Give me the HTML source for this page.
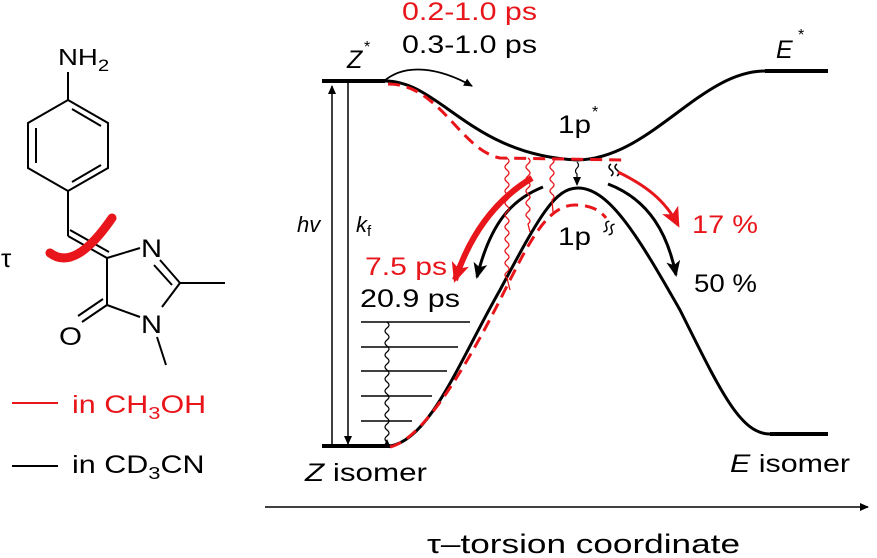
<!DOCTYPE html>
<html><head><meta charset="utf-8"><style>
html,body{margin:0;padding:0;background:#fff;}
svg{display:block;}
text{font-family:"Liberation Sans",sans-serif;}
</style></head><body>
<svg width="877" height="558" viewBox="0 0 877 558" xmlns="http://www.w3.org/2000/svg">
<defs>
<marker id="ab" markerWidth="10" markerHeight="10" refX="8" refY="5" orient="auto" markerUnits="userSpaceOnUse"><path d="M0,1 L9,5 L0,9 Z" fill="#000"/></marker>
<marker id="abl" markerWidth="18" markerHeight="18" refX="14" refY="9" orient="auto" markerUnits="userSpaceOnUse"><path d="M0,2 L16,9 L0,16 L4,9 Z" fill="#000"/></marker>
<marker id="arl" markerWidth="22" markerHeight="22" refX="17" refY="11" orient="auto" markerUnits="userSpaceOnUse"><path d="M0,2 L20,11 L0,20 L5,11 Z" fill="#e8161b"/></marker>
</defs>
<!-- molecule -->
<g stroke="#000" stroke-width="2" fill="none">
<polygon points="68,100 108,123 108,168 68,191 28,168 28,123"/>
<line x1="36" y1="128" x2="36" y2="163"/>
<line x1="72" y1="109" x2="101" y2="126"/>
<line x1="72" y1="182" x2="101" y2="165"/>
<line x1="68" y1="100" x2="68" y2="72"/>
<line x1="68" y1="191" x2="68" y2="236"/>
<line x1="68" y1="236" x2="107" y2="258"/>
<line x1="70" y1="230" x2="109" y2="252"/>
<line x1="107" y1="258" x2="140" y2="248"/>
<line x1="107" y1="258" x2="107" y2="305"/>
<line x1="107" y1="305" x2="140" y2="317"/>
<line x1="107" y1="305" x2="82" y2="322"/>
<line x1="103" y1="299" x2="78" y2="316"/>
<line x1="160" y1="260" x2="180" y2="283"/>
<line x1="154" y1="265" x2="172" y2="285"/>
<line x1="180" y1="283" x2="225" y2="283"/>
<line x1="180" y1="283" x2="162" y2="307"/>
<line x1="157" y1="337" x2="166" y2="365"/>
</g>
<text transform="translate(58,65) scale(1.2,1)" font-size="23">NH<tspan font-size="17" dy="6">2</tspan></text>
<text x="141" y="257" font-size="25" textLength="21" lengthAdjust="spacingAndGlyphs">N</text>
<text x="141" y="333" font-size="25" textLength="21" lengthAdjust="spacingAndGlyphs">N</text>
<text x="59" y="345" font-size="25" textLength="23" lengthAdjust="spacingAndGlyphs">O</text>
<text x="1" y="267" font-size="26" font-family="Liberation Serif">τ</text>
<path d="M50,253 Q75,272 112,218" stroke="#e8161b" stroke-width="9" fill="none" stroke-linecap="round"/>
<line x1="12" y1="403" x2="58" y2="403" stroke="#e8161b" stroke-width="2"/>
<text transform="translate(72,413) scale(1.22,1)" font-size="25" fill="#e8161b">in CH<tspan font-size="18" dy="6">3</tspan><tspan dy="-6">OH</tspan></text>
<line x1="12" y1="466" x2="58" y2="466" stroke="#000" stroke-width="2"/>
<text transform="translate(72,473) scale(1.22,1)" font-size="25">in CD<tspan font-size="18" dy="6">3</tspan><tspan dy="-6">CN</tspan></text>

<!-- energy diagram -->
<g stroke="#000" fill="none">
<line x1="322" y1="81" x2="385" y2="81" stroke-width="4"/>
<path d="M385,81 C440,81 470,155 577,160 C650,159 700,71 765,71" stroke-width="3"/>
<line x1="765" y1="71" x2="828" y2="71" stroke-width="4"/>
<line x1="322" y1="446" x2="390" y2="446" stroke-width="4"/>
<path d="M390,446 C430,440 460,360 500,290 C540,215 555,188 578,188 C610,188 640,240 680,310 C720,390 740,434 770,434" stroke-width="3"/>
<line x1="770" y1="434" x2="828" y2="434" stroke-width="4"/>
<line x1="332" y1="446" x2="332" y2="86" stroke-width="1.5" marker-end="url(#ab)"/>
<line x1="348" y1="83" x2="348" y2="444" stroke-width="1.5" marker-end="url(#ab)"/>
<g stroke-width="1.5">
<line x1="361" y1="322" x2="470" y2="322"/>
<line x1="361" y1="347" x2="458" y2="347"/>
<line x1="361" y1="371" x2="447" y2="371"/>
<line x1="361" y1="396" x2="432" y2="396"/>
<line x1="361" y1="421" x2="412" y2="421"/>
</g>
<path d="M387,322 q4,3 0,6 q-4,3 0,6 q4,3 0,6 q-4,3 0,6 q4,3 0,6 q-4,3 0,6 q4,3 0,6 q-4,3 0,6 q4,3 0,6 q-4,3 0,6 q4,3 0,6 q-4,3 0,6 q4,3 0,6 q-4,3 0,6 q4,3 0,6 q-4,3 0,6 q4,3 0,6 q-4,3 0,6 q4,3 0,6 q-4,3 0,6 L387,440" stroke-width="1.2" marker-end="url(#ab)"/>
<path d="M383,82 C405,62 440,68 472,86" stroke-width="1.8" marker-end="url(#ab)"/>
<path d="M577,162 q3,3 0,6 q-3,3 0,6 L577,185" stroke-width="1.2" marker-end="url(#ab)"/>
<path d="M543,187 C510,200 490,225 477,277" stroke-width="3" marker-end="url(#abl)"/>
<path d="M608,184 C650,200 668,235 676,275" stroke-width="3" marker-end="url(#abl)"/>
<path d="M611,164 q-4,3 0,6 q4,3 0,6 M617,164 q-4,3 0,6 q4,3 0,6" stroke-width="1.5"/>
<path d="M606,222 q-4,3 0,6 q4,3 0,6 M612,222 q-4,3 0,6 q4,3 0,6" stroke-width="1.5" transform="rotate(30 609 228)"/>
</g>
<!-- red dashed -->
<g stroke="#e8161b" fill="none" stroke-width="3" stroke-dasharray="12,7">
<path d="M388,84 C440,84 460,150 500,158 L625,160"/>
<path d="M390,447 C420,440 460,380 505,290 C530,240 548,205 575,205 C590,205 600,210 606,218"/>
</g>
<g stroke="#e8161b" fill="none" stroke-width="1.3">
<path d="M507,158 q4,3 0,6 q-4,3 0,6 q4,3 0,6 q-4,3 0,6 q4,3 0,6 q-4,3 0,6 q4,3 0,6 q-4,3 0,6 q4,3 0,6 q-4,3 0,6 q4,3 0,6 q-4,3 0,6 q4,3 0,6 q-4,3 0,6 q4,3 0,6 q-4,3 0,6 q4,3 0,6 q-4,3 0,6 q4,3 0,6 q-4,3 0,6 L510,290"/>
<path d="M528,158 q4,3 0,6 q-4,3 0,6 q4,3 0,6 q-4,3 0,6 q4,3 0,6 q-4,3 0,6 q4,3 0,6 q-4,3 0,6 q4,3 0,6 q-4,3 0,6 q4,3 0,6 L530,232"/>
<path d="M552,158 q4,3 0,6 q-4,3 0,6 q4,3 0,6 q-4,3 0,6 q4,3 0,6 q-4,3 0,6 q4,3 0,6 L553,212"/>
<path d="M618,172 C645,185 665,200 678,225" stroke-width="3" marker-end="url(#arl)"/>
<path d="M532,178 C495,200 470,235 455,280" stroke-width="6" marker-end="url(#arl)"/>
</g>
<line x1="265" y1="507" x2="868" y2="507" stroke="#000" stroke-width="1.5" marker-end="url(#ab)"/>
<!-- labels -->
<text x="402" y="20" font-size="25" fill="#e8161b" textLength="135" lengthAdjust="spacingAndGlyphs">0.2-1.0 ps</text>
<text x="402" y="53" font-size="25" textLength="135" lengthAdjust="spacingAndGlyphs">0.3-1.0 ps</text>
<text x="347" y="68" font-size="25" font-style="italic">Z</text><text x="364" y="52" font-size="16">*</text>
<text x="776" y="58" font-size="25" font-style="italic">E</text><text x="798" y="40" font-size="16">*</text>
<text x="558" y="133" font-size="25" textLength="33" lengthAdjust="spacingAndGlyphs">1p</text><text x="592" y="117" font-size="16">*</text>
<text x="558" y="245" font-size="25" textLength="33" lengthAdjust="spacingAndGlyphs">1p</text>
<text x="297" y="232" font-size="22" font-style="italic">hv</text>
<text x="356" y="232" font-size="22" font-style="italic">k</text><text x="367" y="236" font-size="15">f</text>
<text x="365" y="275" font-size="25" fill="#e8161b" textLength="82" lengthAdjust="spacingAndGlyphs">7.5 ps</text>
<text x="360" y="307" font-size="25" textLength="100" lengthAdjust="spacingAndGlyphs">20.9 ps</text>
<text x="692" y="233" font-size="25" fill="#e8161b" textLength="66" lengthAdjust="spacingAndGlyphs">17 %</text>
<text x="694" y="292" font-size="25" font-family="Liberation Serif" textLength="63" lengthAdjust="spacingAndGlyphs">50 %</text>
<text x="305" y="481" font-size="25" textLength="122" lengthAdjust="spacingAndGlyphs"><tspan font-style="italic">Z</tspan> isomer</text>
<text x="730" y="472" font-size="25" textLength="120" lengthAdjust="spacingAndGlyphs"><tspan font-style="italic">E</tspan> isomer</text>
<text x="427" y="553" font-size="27" textLength="313" lengthAdjust="spacingAndGlyphs">τ–torsion coordinate</text>
</svg>
</body></html>
